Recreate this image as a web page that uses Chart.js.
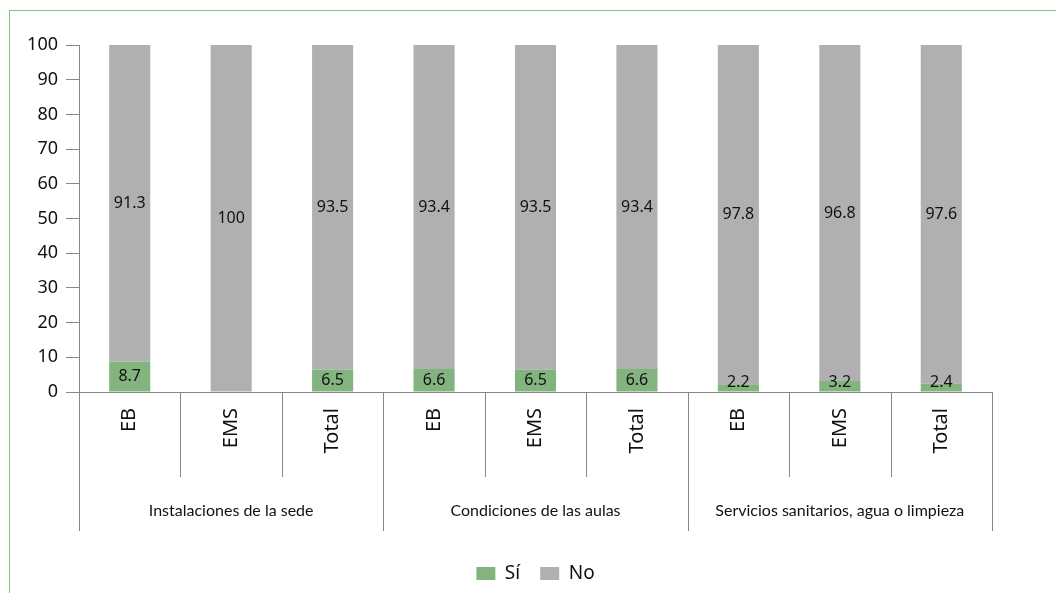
<!DOCTYPE html>
<html>
<head>
<meta charset="utf-8">
<script src="https://cdn.jsdelivr.net/npm/chart.js@4"></script>
<style>
  html, body { margin: 0; padding: 0; background: #fff; overflow: hidden; }
  #wrap { position: relative; width: 1056px; height: 593px; overflow: hidden; }
  #frame { position: absolute; left: 9px; top: 10px; right: 0; bottom: 0;
           border-top: 1px solid #86c283; border-left: 1px solid #86c283; }
  canvas { position: absolute; left: 0; top: 0; }
</style>
</head>
<body>
<div id="wrap">
  <div id="frame"></div>
  <canvas id="barChart" width="1056" height="593"></canvas>
</div>
<script>
const categories = ['EB', 'EMS', 'Total', 'EB', 'EMS', 'Total', 'EB', 'EMS', 'Total'];
const groups = ['Instalaciones de la sede', 'Condiciones de las aulas', 'Servicios sanitarios, agua o limpieza'];
const siValues = [8.7, 0, 6.5, 6.6, 6.5, 6.6, 2.2, 3.2, 2.4];
const noValues = [91.3, 100, 93.5, 93.4, 93.5, 93.4, 97.8, 96.8, 97.6];
const yTicks = [0, 10, 20, 30, 40, 50, 60, 70, 80, 90, 100];

const axisColor = '#868686';

// value labels in the middle of each segment
const valueLabels = {
    id: 'valueLabels',
    afterDatasetsDraw(chart) {
        const ctx = chart.ctx;
        ctx.save();
        ctx.font = '16px "Noto Sans"';
        ctx.fillStyle = '#111';
        ctx.textAlign = 'center';
        ctx.textBaseline = 'middle';
        chart.data.datasets.forEach((ds, di) => {
            chart.getDatasetMeta(di).data.forEach((bar, i) => {
                const v = ds.data[i];
                if (!v) return;
                let y = (bar.y + bar.base) / 2;
                y = Math.min(y, bar.base - 9);
                ctx.fillText(String(v), bar.x, y);
            });
        });
        ctx.restore();
    }
};

// category separators and group labels under the x axis
const groupAxis = {
    id: 'groupAxis',
    afterDraw(chart) {
        const ctx = chart.ctx;
        const x = chart.scales.x;
        const top = chart.chartArea.bottom;
        const w = (x.right - x.left) / categories.length;
        ctx.save();
        ctx.strokeStyle = axisColor;
        ctx.lineWidth = 1;
        for (let i = 0; i <= categories.length; i++) {
            const px = Math.round(x.left + i * w) + 0.5;
            const bottom = i % 3 === 0 ? top + 139 : top + 85;
            ctx.beginPath();
            ctx.moveTo(px, top);
            ctx.lineTo(px, bottom);
            ctx.stroke();
        }
        ctx.font = '16px Lato';
        ctx.fillStyle = '#111';
        ctx.textAlign = 'center';
        ctx.textBaseline = 'middle';
        groups.forEach((g, gi) => {
            ctx.fillText(g, x.left + (gi * 3 + 1.5) * w, top + 119);
        });
        ctx.restore();
    }
};

new Chart(document.getElementById('barChart'), {
    type: 'bar',
    data: {
        labels: categories,
        datasets: [{
            label: 'Sí',
            data: siValues,
            backgroundColor: '#83b37f'
        }, {
            label: 'No',
            data: noValues,
            backgroundColor: '#b0b0b0'
        }]
    },
    options: {
        responsive: false,
        animation: false,
        layout: {
            padding: { top: 45, right: 64, bottom: 0, left: 0 }
        },
        datasets: {
            bar: { categoryPercentage: 1, barPercentage: 0.405 }
        },
        scales: {
            x: {
                stacked: true,
                afterFit(scale) { scale.height = 152; },
                grid: { display: false },
                border: { display: true, color: axisColor, width: 1 },
                ticks: {
                    minRotation: 90,
                    maxRotation: 90,
                    padding: 8,
                    color: '#111',
                    font: { family: 'Noto Sans', size: 20 }
                }
            },
            y: {
                stacked: true,
                min: 0,
                max: 100,
                afterFit(scale) { scale.width = 79; },
                afterBuildTicks(scale) { scale.ticks = yTicks.map(v => ({ value: v })); },
                grid: { drawOnChartArea: false, tickLength: 13, color: axisColor },
                border: { display: true, color: axisColor, width: 1 },
                ticks: {
                    padding: 8,
                    color: '#111',
                    font: { family: 'Noto Sans', size: 18 }
                }
            }
        },
        plugins: {
            legend: {
                position: 'bottom',
                fullSize: false,
                labels: {
                    boxWidth: 19,
                    boxHeight: 13,
                    padding: 20,
                    color: '#111',
                    font: { family: 'Noto Sans', size: 19 }
                }
            },
            tooltip: { enabled: false }
        }
    },
    plugins: [valueLabels, groupAxis]
});
</script>
</body>
</html>
